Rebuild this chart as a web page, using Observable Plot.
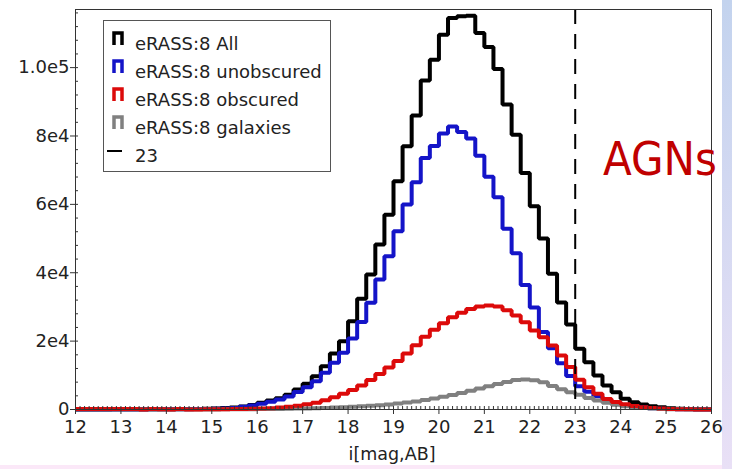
<!DOCTYPE html>
<html><head><meta charset="utf-8">
<script src="https://cdn.jsdelivr.net/npm/d3@7"></script>
<script src="https://cdn.jsdelivr.net/npm/@observablehq/plot@0.6"></script>
<style>
html,body{margin:0;padding:0;}
body{width:732px;height:469px;overflow:hidden;background:linear-gradient(to bottom,#c3d3ee,#e9e0f6);position:relative;}
#wrap{position:absolute;left:0;top:0;width:722px;height:469px;background:#fbe8f8;}
#chart{width:722px;height:465px;background:#fff;}
svg{display:block;}
</style></head><body><div id="wrap"><div id="chart"></div></div>
<script>
// bin left edges (width 0.2 mag), last bin ends at 26
const binEdges = [12,12.2,12.4,12.6,12.8,13,13.2,13.4,13.6,13.8,
  14,14.2,14.4,14.6,14.8,15,15.2,15.4,15.6,15.8,
  16,16.2,16.4,16.6,16.8,17,17.2,17.4,17.6,17.8,
  18,18.2,18.4,18.6,18.8,19,19.2,19.4,19.6,19.8,
  20,20.2,20.4,20.6,20.8,21,21.2,21.4,21.6,21.8,
  22,22.2,22.4,22.6,22.8,23,23.2,23.4,23.6,23.8,
  24,24.2,24.4,24.6,24.8,25,25.2,25.4,25.6,25.8];
const binEnd = 26;

const allAGN = [20,20,30,30,40,40,50,60,70,80,
  100,120,150,180,230,300,420,600,900,1350,
  1950,2630,3300,4300,5850,7500,9740,12670,16370,19980,
  25820,32360,39470,48250,57000,66750,77000,86000,96200,102300,
  109650,114500,115000,115200,110150,106000,99600,89200,80400,69200,
  59450,50000,39700,31300,24850,17750,13830,9940,7020,5070,
  3120,2140,1460,970,680,400,250,150,90,50];

const unobscured = [10,10,10,20,20,20,30,30,40,50,
  60,80,100,130,170,230,320,450,800,1150,
  1650,2300,2950,3800,5100,6500,8280,10730,13650,16570,
  20800,25600,31200,38000,44830,52140,59940,66460,73600,77100,
  80700,82800,81200,79300,74200,68100,62080,52900,45700,36400,
  29800,22700,17900,13500,9800,6800,5200,3900,2800,2000,
  1300,900,600,400,250,150,90,50,30,20];

const obscured = [150,150,150,150,150,150,150,0,150,100,
  0,120,0,30,40,60,80,110,150,200,
  280,400,560,800,1100,1500,2000,2700,3600,4600,
  5700,7000,8600,10400,12300,14200,16400,18800,21300,23300,
  25200,27000,28300,29400,30100,30400,30100,29000,27500,25500,
  23100,21150,18700,15800,12400,8700,6500,4600,3100,2200,
  1500,1000,680,440,270,170,100,60,30,20];

const galaxies = [20,20,20,20,20,20,20,20,20,20,
  20,20,20,20,20,30,40,50,70,90,
  110,140,170,210,260,320,390,470,560,660,
  780,920,1080,1270,1490,1740,2030,2370,2750,3200,
  3700,4250,4850,5500,6150,6800,7450,8050,8600,8800,
  8550,8000,6900,5900,5050,4300,3350,2650,1950,1400,
  980,660,430,270,160,90,50,30,20,10];

const seriesNames = ["eRASS:8 All","eRASS:8 unobscured","eRASS:8 obscured","eRASS:8 galaxies"];
const seriesColors = ["#000000","#1414c8","#dc0a0a","#808080"];
const cutMag = 23;
const cutLabel = "23";

const xTicks = [12,13,14,15,16,17,18,19,20,21,22,23,24,25,26];
const yTicks = [0,20000,40000,60000,80000,100000];
const yTickLabels = ["0","2e4","4e4","6e4","8e4","1.0e5"];
const xMinor = d3.range(12, 26.001, 0.1);
const yMinor = d3.range(0, 117000, 4000);

function steps(vals){
  const pts = binEdges.map((e,i)=>({x:e, y:vals[i]}));
  pts.push({x:binEnd, y:vals[vals.length-1]});
  return pts;
}
const lineOpts = (c)=>({x:"x", y:"y", stroke:c, strokeWidth:4, curve:"step-after", strokeLinejoin:"miter", strokeLinecap:"butt"});

const font = "DejaVu Sans, Verdana, sans-serif";
const plot = Plot.plot({
  width: 722, height: 465,
  marginLeft: 75, marginRight: 11, marginTop: 9, marginBottom: 56,
  x: {domain:[12,26]},
  y: {domain:[0,117000]},
  style: {fontFamily: font, fontSize: "18px", color: "#222", background: "transparent", overflow: "visible"},
  marks: [
    Plot.line(steps(allAGN), lineOpts(seriesColors[0])),
    Plot.line(steps(unobscured), lineOpts(seriesColors[1])),
    Plot.line(steps(galaxies), lineOpts(seriesColors[3])),
    Plot.line(steps(obscured), lineOpts(seriesColors[2])),
    Plot.ruleX([cutMag], {stroke:"#000", strokeWidth:2, strokeDasharray:"15,10"}),
    Plot.axisY({ticks: yTicks, tickFormat: d => yTickLabels[yTicks.indexOf(d)], tickSize: 5, tickPadding: 1, label: null, stroke:"#333", fontSize: 18}),
    Plot.axisY({ticks: yMinor, tickSize: -3, text: null, label: null, stroke:"#333"}),
    Plot.axisX({ticks: xTicks, tickFormat: d => String(d), tickSize: 5, tickPadding: 6, label: null, stroke:"#333", fontSize: 18}),
    Plot.axisX({ticks: xMinor, tickSize: -3, text: null, label: null, stroke:"#333"}),
    Plot.frame({stroke:"#333", strokeWidth:1})
  ]
});
document.getElementById("chart").appendChild(plot);

const svg = d3.select(plot);
// x-axis title
svg.append("text").attr("x",392).attr("y",460).attr("text-anchor","middle")
  .attr("font-family",font).attr("font-size",17.5).attr("fill","#222").text("i[mag,AB]");

// legend
const lg = svg.append("g").attr("text-anchor","start");
lg.append("rect").attr("x",103.5).attr("y",20.5).attr("width",227).attr("height",151)
  .attr("fill","#fff").attr("stroke","#555").attr("stroke-width",1);
const legendNames = seriesNames.concat([cutLabel]);
legendNames.forEach((name,i)=>{
  const base = 50 + i*28;
  if (i < 4) {
    lg.append("path").attr("d",`M114,${base-5}V${base-17}H122V${base-5}`)
      .attr("fill","none").attr("stroke",seriesColors[i]).attr("stroke-width",3.5).attr("stroke-linejoin","miter");
  } else {
    lg.append("line").attr("x1",107).attr("x2",122).attr("y1",base-11).attr("y2",base-11)
      .attr("stroke","#000").attr("stroke-width",2);
  }
  lg.append("text").attr("x",135).attr("y",base).attr("text-anchor","start").attr("font-family",font).attr("font-size",18)
    .attr("fill","#222").text(name);
});

// annotation
svg.append("text").attr("x",603).attr("y",175).attr("text-anchor","start").attr("font-family",font).attr("font-size",46)
  .attr("fill","#c00000").attr("textLength",114).attr("lengthAdjust","spacingAndGlyphs").text("AGNs");
</script></body></html>
